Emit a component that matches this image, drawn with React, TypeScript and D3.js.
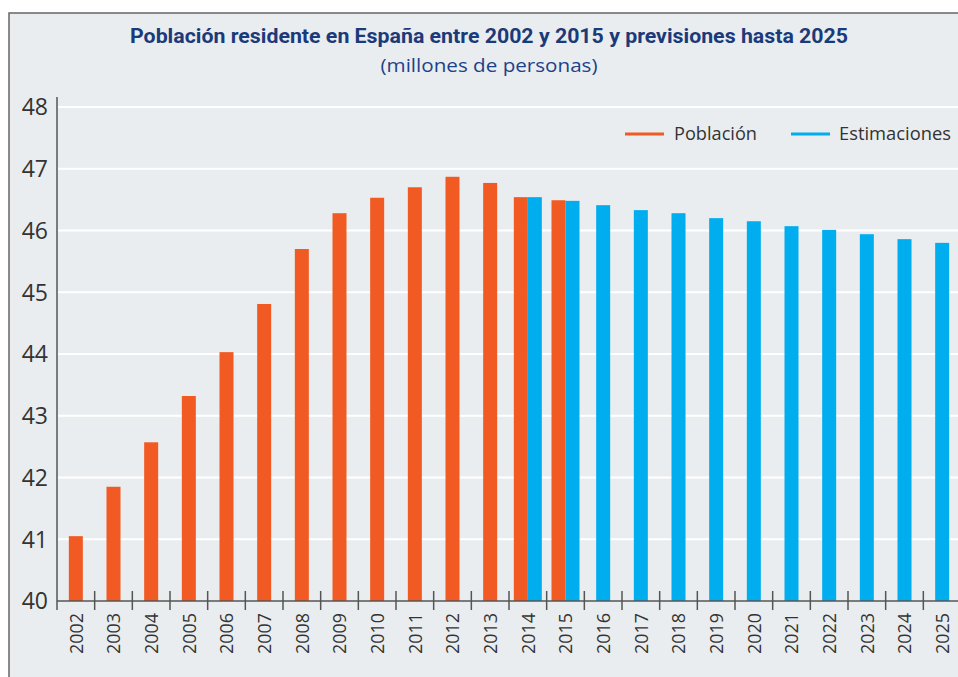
import * as d3 from 'd3';

const WIDTH = 958;
const HEIGHT = 677;

const years = ['2002', '2003', '2004', '2005', '2006', '2007', '2008', '2009', '2010', '2011', '2012', '2013', '2014', '2015', '2016', '2017', '2018', '2019', '2020', '2021', '2022', '2023', '2024', '2025'];
const poblacionYears = ['2002', '2003', '2004', '2005', '2006', '2007', '2008', '2009', '2010', '2011', '2012', '2013', '2014', '2015'];
const poblacion = [41.05, 41.85, 42.57, 43.32, 44.03, 44.81, 45.7, 46.28, 46.53, 46.7, 46.87, 46.77, 46.54, 46.49];
const estimacionYears = ['2014', '2015', '2016', '2017', '2018', '2019', '2020', '2021', '2022', '2023', '2024', '2025'];
const estimaciones = [46.54, 46.48, 46.41, 46.33, 46.28, 46.2, 46.15, 46.07, 46.01, 45.94, 45.86, 45.8];
const yTicks = [40, 41, 42, 43, 44, 45, 46, 47, 48];

const TITLE = 'Población residente en España entre 2002 y 2015 y previsiones hasta 2025';
const SUBTITLE = '(millones de personas)';

const ORANGE = '#f15a22';
const BLUE = '#00aeef';
const BG = '#e9edef';
const TEXT = '#333333';
const BAR_W = 14;

const App = () => {
  const xScale = d3.scaleBand().domain(years).range([57, 961]).padding(0);
  const yScale = d3.scaleLinear().domain([40, 48]).range([601, 107]);
  const bw = xScale.bandwidth();

  const both = (y: string) => poblacionYears.includes(y) && estimacionYears.includes(y);

  const orangeBars = poblacion.map((v, i) => {
    const yr = poblacionYears[i];
    const c = (xScale(yr) ?? 0) + bw / 2;
    const x = both(yr) ? c - BAR_W : c - BAR_W / 2;
    return <rect key={'p' + yr} x={x} y={yScale(v)} width={BAR_W} height={yScale(40) - yScale(v)} fill={ORANGE} />;
  });

  const blueBars = estimaciones.map((v, i) => {
    const yr = estimacionYears[i];
    const c = (xScale(yr) ?? 0) + bw / 2;
    const x = both(yr) ? c : c - BAR_W / 2;
    return <rect key={'e' + yr} x={x} y={yScale(v)} width={BAR_W} height={yScale(40) - yScale(v)} fill={BLUE} />;
  });

  const grid = yTicks.filter((t) => t > 40).map((t) => (
    <line key={t} x1={58} x2={WIDTH} y1={yScale(t)} y2={yScale(t)} stroke="#ffffff" strokeWidth={2} />
  ));

  const yLabels = yTicks.map((t) => (
    <text key={t} x={48} y={yScale(t)} dy="0.36em" textAnchor="end" fontSize={23} fill={TEXT} fontFamily="'Open Sans', sans-serif">
      {t}
    </text>
  ));

  // tick marks sit between the bands
  const xTicks = years.slice(1).map((yr) => {
    const x = xScale(yr) ?? 0;
    return <line key={yr} x1={x} x2={x} y1={591} y2={610} stroke="#555" strokeWidth={1.5} />;
  });

  const xLabels = years.map((yr) => {
    const c = (xScale(yr) ?? 0) + bw / 2;
    return (
      <text
        key={yr}
        transform={`translate(${c},613) rotate(-90)`}
        dy="0.36em"
        textAnchor="end"
        fontSize={19}
        fill={TEXT}
        fontFamily="'Open Sans', sans-serif"
        textLength={41}
        lengthAdjust="spacingAndGlyphs"
      >
        {yr}
      </text>
    );
  });

  return (
    <svg width={WIDTH} height={HEIGHT} style={{ position: 'fixed', left: 0, top: 0, display: 'block' }}>
      <rect x={0} y={0} width={WIDTH} height={HEIGHT} fill="#ffffff" />
      <rect x={9} y={13} width={WIDTH} height={HEIGHT} fill={BG} stroke="#666" strokeWidth={1.5} />
      <text
        x={489}
        y={43}
        textAnchor="middle"
        fontSize={20}
        fontWeight="bold"
        fill="#1b3a7a"
        fontFamily="'Liberation Sans Narrow', 'Roboto', sans-serif"
        textLength={718}
        lengthAdjust="spacingAndGlyphs"
      >
        {TITLE}
      </text>
      <text
        x={489}
        y={72}
        textAnchor="middle"
        fontSize={19}
        fill="#1d428a"
        fontFamily="'Open Sans', sans-serif"
        textLength={217}
        lengthAdjust="spacingAndGlyphs"
      >
        {SUBTITLE}
      </text>
      {grid}
      {orangeBars}
      {blueBars}
      <line x1={57} x2={57} y1={97} y2={610} stroke="#555" strokeWidth={1.5} />
      <line x1={57} x2={WIDTH} y1={601} y2={601} stroke="#555" strokeWidth={1.5} />
      {xTicks}
      {yLabels}
      {xLabels}
      <g fontFamily="'Open Sans', sans-serif" fontSize={18} fill={TEXT}>
        <line x1={625} x2={664} y1={134} y2={134} stroke={ORANGE} strokeWidth={3} />
        <text x={674} y={134} dy="0.36em" textLength={83} lengthAdjust="spacingAndGlyphs">Población</text>
        <line x1={791} x2={830} y1={134} y2={134} stroke={BLUE} strokeWidth={3} />
        <text x={839} y={134} dy="0.36em" textLength={112} lengthAdjust="spacingAndGlyphs">Estimaciones</text>
      </g>
    </svg>
  );
};

export default App;
